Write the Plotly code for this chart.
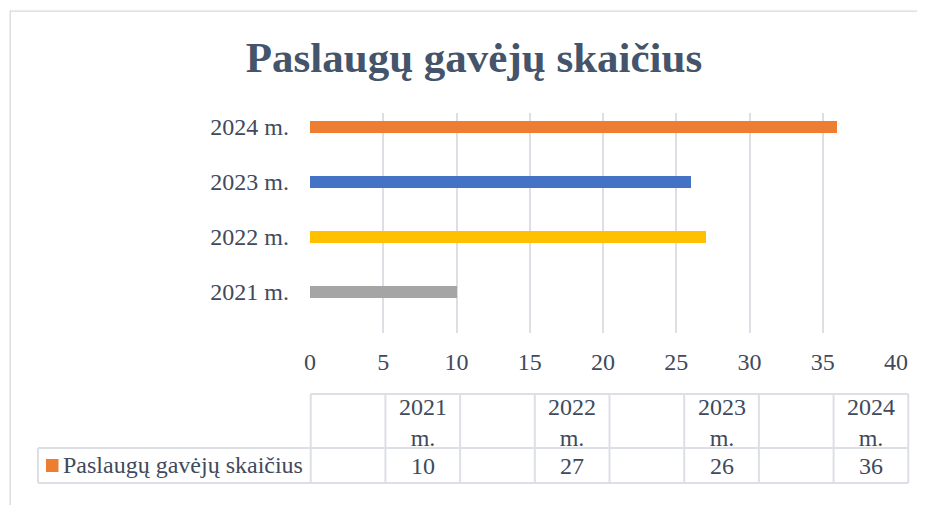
import plotly.graph_objects as go

# data
years = ["2021 m.", "2022 m.", "2023 m.", "2024 m."]
values = [10, 27, 26, 36]
bar_colors = ["#A5A5A5", "#FFC000", "#4472C4", "#ED7D31"]
series_name = "Paslaugų gavėjų skaičius"
title = "Paslaugų gavėjų skaičius"
x_ticks = [0, 5, 10, 15, 20, 25, 30, 35, 40]

# the page has an 8px body margin, so every target pixel position is shifted by OFF
OFF = 8
W, H = 925 - OFF, 505 - OFF
L, T = 310 - OFF, 113 - OFF
R = W - (896 - OFF)
B = H - (333 - OFF)
PW, PH = W - L - R, H - T - B

TEXT = "#404A5C"
GRID = "#DCDFE4"
FONT = "Liberation Serif, Times New Roman, serif"


def px(x):
    return (x - OFF - L) / PW


def py(y):
    return (H - B - (y - OFF)) / PH


fig = go.Figure()
fig.add_trace(go.Bar(
    y=years, x=values, orientation='h', name=series_name,
    marker=dict(color=bar_colors, line=dict(width=0)),
    width=0.22, showlegend=False, hoverinfo='x+y',
))

shapes = []
annotations = []

# outer chart frame: top and left edges as thin filled strips
FRAME = "#D9D9D9"
shapes.append(dict(type='rect', xref='paper', yref='paper',
                   x0=px(10), x1=px(924), y0=py(11.7), y1=py(10.5),
                   fillcolor=FRAME, line=dict(width=0), layer='below'))
shapes.append(dict(type='rect', xref='paper', yref='paper',
                   x0=px(9.5), x1=px(10.8), y0=py(505), y1=py(10.5),
                   fillcolor=FRAME, line=dict(width=0), layer='below'))

# data table below the chart
col_w = 74.7
tx0, tx1 = 310.7, 310.7 + 8 * col_w
row_top, row_mid, row_bot = 394, 448, 483
leg_left = 38
tline = dict(color=GRID, width=2)
shapes.append(dict(type='line', xref='paper', yref='paper',
                   x0=px(tx0), x1=px(tx1), y0=py(row_top), y1=py(row_top), line=tline))
for yy in (row_mid, row_bot):
    shapes.append(dict(type='line', xref='paper', yref='paper',
                       x0=px(leg_left), x1=px(tx1), y0=py(yy), y1=py(yy), line=tline))
shapes.append(dict(type='line', xref='paper', yref='paper',
                   x0=px(leg_left), x1=px(leg_left), y0=py(row_mid), y1=py(row_bot), line=tline))
for i in range(9):
    xx = tx0 + i * col_w
    shapes.append(dict(type='line', xref='paper', yref='paper',
                       x0=px(xx), x1=px(xx), y0=py(row_top), y1=py(row_bot), line=tline))

cell_font = dict(family=FONT, size=24, color=TEXT)
for i, (yr, v) in enumerate(zip(years, values)):
    cx = tx0 + (2 * i + 1.5) * col_w
    annotations.append(dict(xref='paper', yref='paper', x=px(cx), y=py(422),
                            xanchor='center', yanchor='middle',
                            text=yr.replace(" ", "<br>"), showarrow=False, font=cell_font))
    annotations.append(dict(xref='paper', yref='paper', x=px(cx), y=py(466),
                            xanchor='center', yanchor='middle',
                            text=str(v), showarrow=False, font=cell_font))

# legend key + series name
shapes.append(dict(type='rect', xref='paper', yref='paper',
                   x0=px(46), x1=px(58.5), y0=py(472), y1=py(459),
                   fillcolor="#ED7D31", line=dict(width=0)))
annotations.append(dict(xref='paper', yref='paper', x=px(61), y=py(465),
                        xanchor='left', yanchor='middle', text=series_name,
                        showarrow=False, font=cell_font))

fig.update_layout(
    width=W, height=H, autosize=False,
    margin=dict(l=L, r=R, t=T, b=B),
    paper_bgcolor='white', plot_bgcolor='white',
    title=dict(text=f"<b>{title}</b>", x=(474 - OFF) / W, xref='container', xanchor='center',
               y=1 - (57 - OFF) / H, yref='container', yanchor='middle',
               font=dict(family=FONT, size=43, color="#44546A")),
    xaxis=dict(range=[0, 40], tickvals=x_ticks, showgrid=True, gridcolor=GRID, gridwidth=2,
               zeroline=False, showline=False, ticks='', ticklabelstandoff=12,
               tickfont=dict(family=FONT, size=24, color=TEXT)),
    yaxis=dict(categoryorder='array', categoryarray=years, range=[-0.745, 3.255],
               showgrid=False, zeroline=False, showline=False, ticks='', ticklabelstandoff=20,
               tickfont=dict(family=FONT, size=24, color=TEXT)),
    shapes=shapes, annotations=annotations, bargap=0,
)

fig.write_html("out.html")
